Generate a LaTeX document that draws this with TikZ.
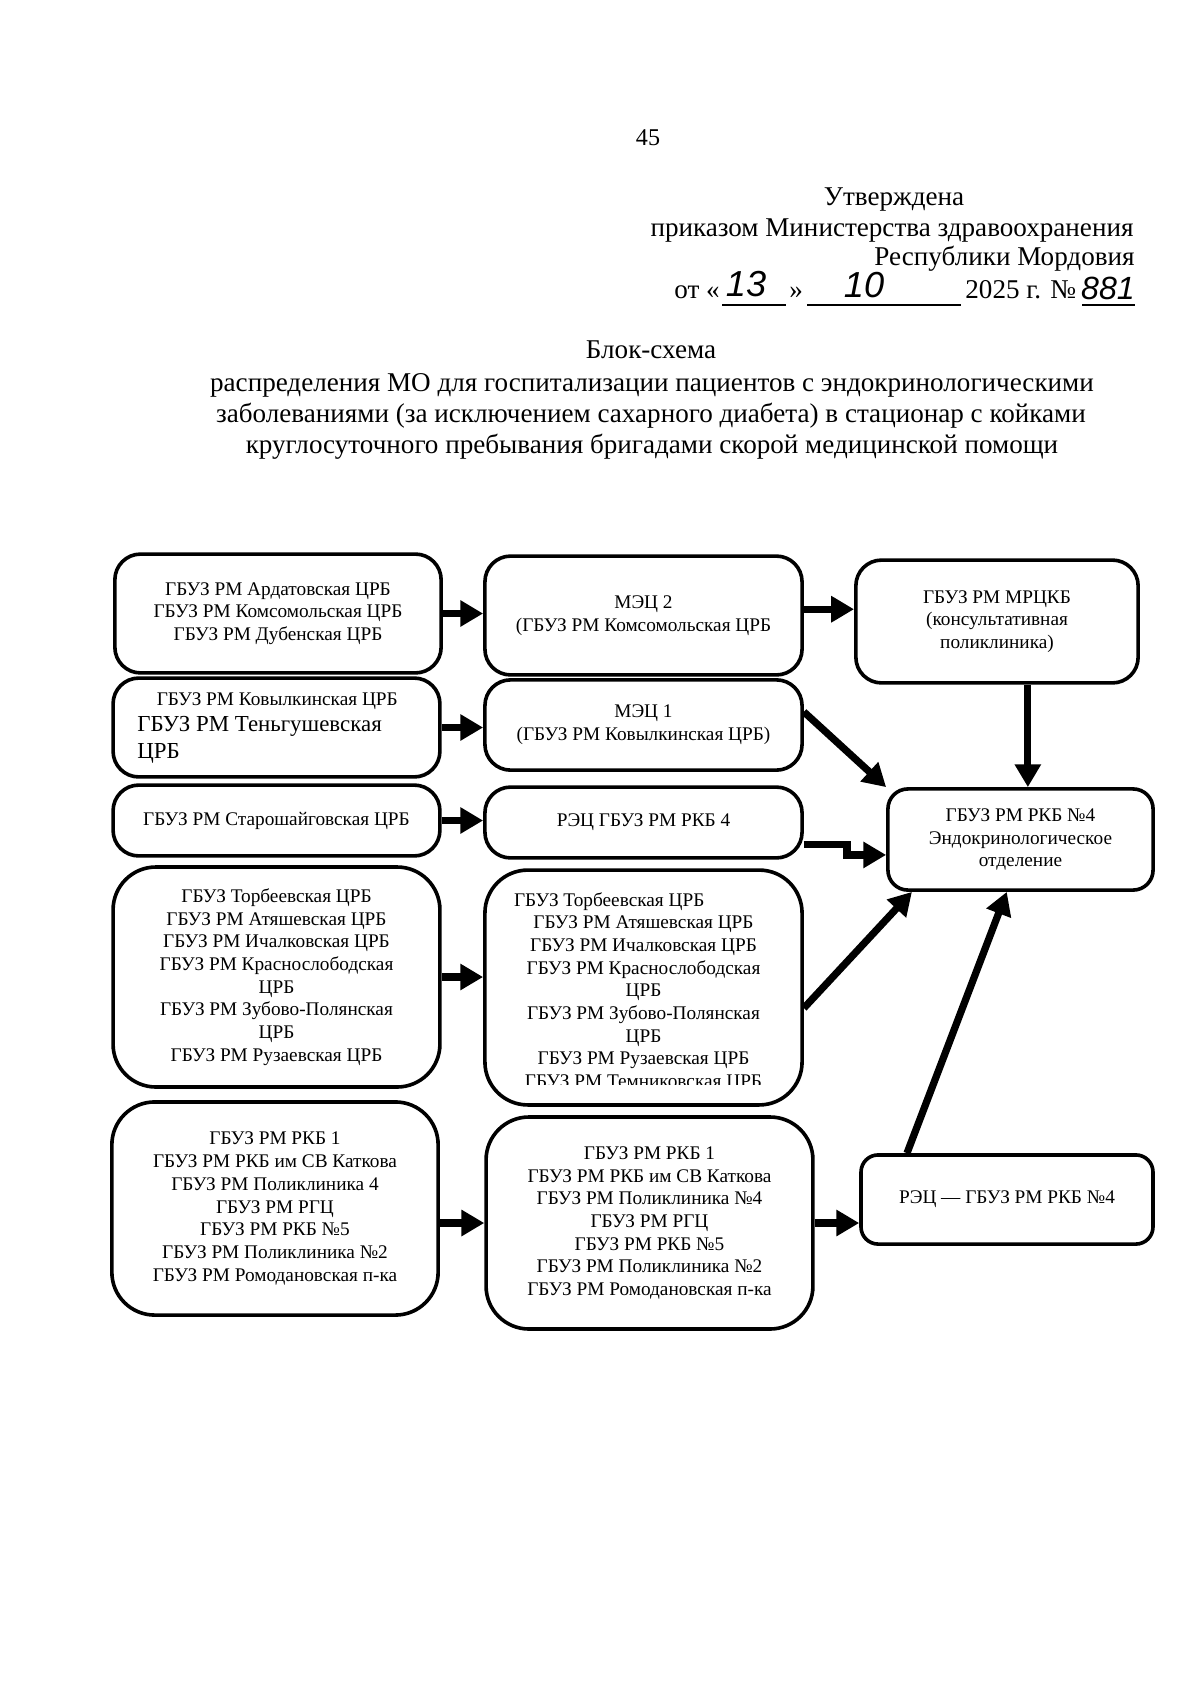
\documentclass[tikz,border=0pt]{standalone}
\usepackage{fontspec}
\setmainfont{Liberation Serif}
\newfontfamily\handfont{Liberation Sans}
\usetikzlibrary{arrows.meta}

\newcommand{\orgfont}{\fontsize{9.6}{11.3}\selectfont}
\tikzset{
  org/.style={draw, line width=1.8pt, rounded corners=4.5mm, font=\orgfont, align=center, inner sep=0pt},
  tallorg/.style={org, rounded corners=7.5mm},
  link/.style={line width=3.6pt, -{Triangle[length=4mm,width=4.4mm]}},
  head/.style={inner sep=0pt, anchor=base, font=\fontsize{13.5}{15.4}\selectfont},
  hand/.style={inner sep=0pt, font=\handfont\itshape\fontsize{18}{18}\selectfont},
}

\begin{document}
\begin{tikzpicture}[x=0.175mm, y=-0.175mm]
  \useasboundingbox (0,0) rectangle (1200,1688);
  % page number and approval stamp
  \node[head, font=\fontsize{12}{14}\selectfont] (pnum) at (648,145) {45};
  \node[head] (approved) at (894,205) {Утверждена};
  \node[head] (order) at (892,236) {приказом Министерства здравоохранения};
  \node[head, anchor=base east] (republic) at (1135,265) {Республики Мордовия};
  \node[head, anchor=base west] (from) at (674,298) {от «};
  \node[head, anchor=base west] (quote) at (789,298) {»};
  \node[head, anchor=base west] (year) at (965,298) {2025 г. №};
  \draw[line width=0.6pt] (722,305) -- (786,305) (807,305) -- (961,305) (1082,305) -- (1135,305);
  % handwritten date and number
  \node[hand] (day) at (746,284) {13};
  \node[hand] (month) at (864,285) {10};
  \node[hand, font=\handfont\itshape\fontsize{16}{16}\selectfont] (num) at (1108,288) {881};
  % title
  \node[head] (t0) at (651,358) {Блок-схема};
  \node[head] (t1) at (652,391) {распределения МО для госпитализации пациентов с эндокринологическими};
  \node[head] (t2) at (651,422) {заболеваниями (за исключением сахарного диабета) в стационар с койками};
  \node[head] (t3) at (652,453) {круглосуточного пребывания бригадами скорой медицинской помощи};

  % first column: where the patient is
  \node[org, minimum width=57.1mm, minimum height=20.8mm] (ardatov) at (278,613.5)
    {ГБУЗ РМ Ардатовская ЦРБ\\ГБУЗ РМ Комсомольская ЦРБ\\ГБУЗ РМ Дубенская ЦРБ};
  \node[org, minimum width=57.2mm, minimum height=17.3mm] (kovyl) at (276.5,727.5) {};
  \node[inner sep=0pt, align=left, anchor=west, font=\fontsize{11.4}{13}\selectfont] (kovyltext) at (137,728)
    {{\orgfont\hspace*{3.4mm}ГБУЗ РМ Ковылкинская ЦРБ}\\ГБУЗ РМ Теньгушевская\\ЦРБ};
  \node[org, minimum width=57.2mm, minimum height=12.4mm] (starosh) at (276.5,820.5)
    {ГБУЗ РМ Старошайговская ЦРБ};
  \node[tallorg, minimum width=57.2mm, minimum height=38.5mm] (torbeev) at (276.5,977)
    {ГБУЗ Торбеевская ЦРБ\\ГБУЗ РМ Атяшевская ЦРБ\\ГБУЗ РМ Ичалковская ЦРБ\\ГБУЗ РМ Краснослободская\\ЦРБ\\ГБУЗ РМ Зубово-Полянская\\ЦРБ\\ГБУЗ РМ Рузаевская ЦРБ};
  \node[tallorg, minimum width=57.1mm, minimum height=37.3mm] (rkb1) at (275,1208.5)
    {ГБУЗ РМ РКБ 1\\ГБУЗ РМ РКБ им СВ Каткова\\ГБУЗ РМ Поликлиника 4\\ГБУЗ РМ РГЦ\\ГБУЗ РМ РКБ №5\\ГБУЗ РМ Поликлиника №2\\ГБУЗ РМ Ромодановская п-ка};

  % second column: expert centres
  \node[org, minimum width=55.5mm, minimum height=20.8mm] (mec2) at (643.5,615.5)
    {МЭЦ 2\\(ГБУЗ РМ Комсомольская ЦРБ};
  \node[org, minimum width=55.5mm, minimum height=15.8mm] (mec1) at (643.5,725)
    {МЭЦ 1\\(ГБУЗ РМ Ковылкинская ЦРБ)};
  \node[org, minimum width=55.5mm, minimum height=12.4mm] (rec4) at (643.5,822.5)
    {РЭЦ ГБУЗ РМ РКБ 4};
  \node[tallorg, minimum width=55.5mm, minimum height=41.1mm] (torbeev2) at (643.5,987.5) {};
  \begin{scope}
    % the last line is cut by the box in the original
    \clip (485,870) rectangle (802,1084);
    \node[org, draw=none] (torbeev2text) at (643.5,992)
      {ГБУЗ Торбеевская ЦРБ\hspace*{12mm}\\ГБУЗ РМ Атяшевская ЦРБ\\ГБУЗ РМ Ичалковская ЦРБ\\ГБУЗ РМ Краснослободская\\ЦРБ\\ГБУЗ РМ Зубово-Полянская\\ЦРБ\\ГБУЗ РМ Рузаевская ЦРБ\\ГБУЗ РМ Темниковская ЦРБ};
  \end{scope}
  \node[tallorg, minimum width=57.2mm, minimum height=37.1mm] (rkb1b) at (649.5,1223)
    {ГБУЗ РМ РКБ 1\\ГБУЗ РМ РКБ им СВ Каткова\\ГБУЗ РМ Поликлиника №4\\ГБУЗ РМ РГЦ\\ГБУЗ РМ РКБ №5\\ГБУЗ РМ Поликлиника №2\\ГБУЗ РМ Ромодановская п-ка};

  % third column
  \node[org, minimum width=49.4mm, minimum height=21.5mm] (mrckb) at (997,621.5)
    {ГБУЗ РМ МРЦКБ\\(консультативная\\поликлиника)};
  \node[org, rounded corners=3.5mm, minimum width=46.4mm, minimum height=17.7mm] (endo) at (1020.5,839.5)
    {ГБУЗ РМ РКБ №4\\Эндокринологическое\\отделение};
  \node[org, rounded corners=3mm, minimum width=51.1mm, minimum height=15.6mm] (rec) at (1007,1199.5)
    {РЭЦ — ГБУЗ РМ РКБ №4};

  % straight routes
  \draw[link] (ardatov.east) -- (ardatov.east -| mec2.west);
  \draw[link] ([yshift=1.1mm]mec2.east) -- ([yshift=1.1mm]mec2.east -| mrckb.west);
  \draw[link] (kovyl.east) -- (kovyl.east -| mec1.west);
  \draw[link] (starosh.east) -- (starosh.east -| rec4.west);
  \draw[link] (torbeev.east) -- (torbeev.east -| torbeev2.west);
  \draw[link] (rkb1b.west -| rkb1.east) -- (rkb1b.west);
  \draw[link] (rkb1b.east) -- (rkb1b.east -| rec.west);
  % everything ends in the endocrinology department
  \draw[link] ([xshift=5.4mm]mrckb.south) -- ([xshift=5.4mm]mrckb.south |- endo.north);
  \draw[link] ([yshift=2.3mm]mec1.east) -- (endo.north west);
  \draw[link] ([yshift=-3.9mm]rec4.east) -- ++(43,0) |- ([yshift=-2.7mm]endo.west);
  \draw[link] ([yshift=-3.6mm]torbeev2.east) -- ([xshift=-19mm]endo.south);
  \draw[link] ([xshift=-17.5mm]rec.north) -- ([xshift=-2.4mm]endo.south);
\end{tikzpicture}
\end{document}
